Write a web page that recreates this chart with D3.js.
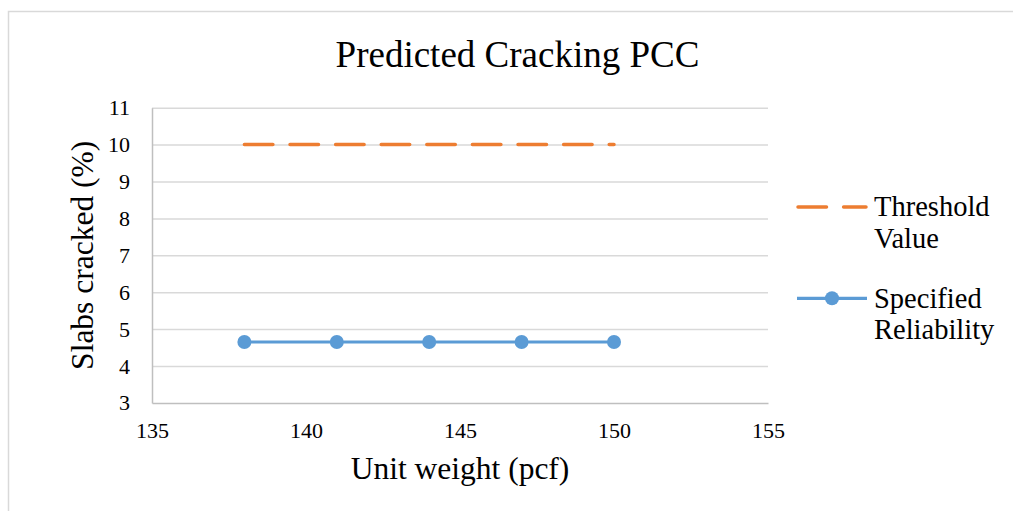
<!DOCTYPE html>
<html>
<head>
<meta charset="utf-8">
<script src="https://cdn.jsdelivr.net/npm/d3@7"></script>
<style>
  html, body { margin: 0; padding: 0; background: #fff; }
  svg { display: block; }
  text { font-family: "Liberation Serif", "Times New Roman", serif; fill: #000; }
</style>
</head>
<body>
<svg id="chart" width="1013" height="511"></svg>
<script>
// Chart data
const unitWeight = [138, 141, 144, 147, 150];
const thresholdValue = [10, 10, 10, 10, 10];
const specifiedReliability = [4.65, 4.65, 4.65, 4.65, 4.65];
const xTicks = [135, 140, 145, 150, 155];
const yTicks = [3, 4, 5, 6, 7, 8, 9, 10, 11];
const seriesNames = ["Threshold Value", "Specified Reliability"];

const W = 1013, H = 511;
const serif = '"Liberation Serif", "Times New Roman", serif';
const svg = d3.select("#chart");

// Outer chart frame
svg.append("rect")
  .attr("x", 8.5).attr("y", 11.5)
  .attr("width", W + 10).attr("height", H + 10)
  .attr("fill", "#fff").attr("stroke", "#d9d9d9").attr("stroke-width", 1.5);

const x = d3.scaleLinear().domain([135, 155]).range([152, 768]);
const y = d3.scaleLinear().domain([3, 11]).range([402.9, 107.7]);

// Horizontal gridlines
svg.append("g")
  .attr("transform", `translate(${x(135)},0)`)
  .call(d3.axisLeft(y).tickValues(yTicks.slice(1)).tickSize(-(x(155) - x(135))).tickFormat(""))
  .call(g => g.select(".domain").remove())
  .call(g => g.selectAll(".tick line").attr("stroke", "#d9d9d9").attr("stroke-width", 1.5));

// Y axis with labels
svg.append("g")
  .attr("transform", `translate(${x(135)},0)`)
  .attr("font-family", null).attr("font-size", null)
  .call(d3.axisLeft(y).tickValues(yTicks).tickSize(0).tickPadding(22).tickFormat(d3.format("d")))
  .call(g => g.select(".domain").attr("stroke", "#bfbfbf").attr("stroke-width", 1.5))
  .call(g => g.selectAll(".tick text").style("font-family", serif).style("font-size", "22px").attr("fill", "#000"));

// X axis with labels
svg.append("g")
  .attr("transform", `translate(0,${y(3)})`)
  .call(d3.axisBottom(x).tickValues(xTicks).tickSize(0).tickPadding(19).tickFormat(d3.format("d")))
  .call(g => g.select(".domain").attr("stroke", "#bfbfbf").attr("stroke-width", 1.5))
  .call(g => g.selectAll(".tick text").style("font-family", serif).style("font-size", "22px").attr("fill", "#000"));

const orange = "#ed7d31", blue = "#5b9bd5";

// Threshold line (dashed)
const line = d3.line().x((d, i) => x(unitWeight[i])).y(d => y(d));
svg.append("path")
  .attr("d", line(thresholdValue))
  .attr("fill", "none").attr("stroke", orange).attr("stroke-width", 3.5)
  .attr("stroke-linecap", "round")
  .attr("stroke-dasharray", "28.5,17.1");

// Specified reliability line with markers
svg.append("path")
  .attr("d", line(specifiedReliability))
  .attr("fill", "none").attr("stroke", blue).attr("stroke-width", 3.2);
svg.append("g").selectAll("circle")
  .data(specifiedReliability)
  .join("circle")
  .attr("cx", (d, i) => x(unitWeight[i]))
  .attr("cy", d => y(d))
  .attr("r", 7)
  .attr("fill", blue);

// Title
svg.append("text")
  .attr("x", 517.5).attr("y", 66.7)
  .attr("text-anchor", "middle").attr("font-size", 37)
  .text("Predicted Cracking PCC");

// Axis titles
svg.append("text")
  .attr("x", 460).attr("y", 479)
  .attr("text-anchor", "middle").attr("font-size", 31.5)
  .text("Unit weight (pcf)");
svg.append("text")
  .attr("transform", `translate(93,${(y(3) + y(11)) / 2}) rotate(-90)`)
  .attr("text-anchor", "middle").attr("font-size", 31.5)
  .text("Slabs cracked (%)");

// Legend
const legend = svg.append("g");
legend.append("line")
  .attr("x1", 798).attr("x2", 866).attr("y1", 207).attr("y2", 207)
  .attr("stroke", orange).attr("stroke-width", 3.5).attr("stroke-linecap", "round")
  .attr("stroke-dasharray", "28.5,17.1");
const tv = legend.append("text").attr("font-size", 28.5);
tv.append("tspan").attr("x", 874).attr("y", 216).text("Threshold");
tv.append("tspan").attr("x", 874).attr("y", 248.3).text("Value");

legend.append("line")
  .attr("x1", 797).attr("x2", 867).attr("y1", 298.3).attr("y2", 298.3)
  .attr("stroke", blue).attr("stroke-width", 3.2);
legend.append("circle").attr("cx", 832).attr("cy", 298.3).attr("r", 7).attr("fill", blue);
const sr = legend.append("text").attr("font-size", 28.5);
sr.append("tspan").attr("x", 874).attr("y", 308.3).text("Specified");
sr.append("tspan").attr("x", 874).attr("y", 338.8).text("Reliability");
</script>
</body>
</html>
